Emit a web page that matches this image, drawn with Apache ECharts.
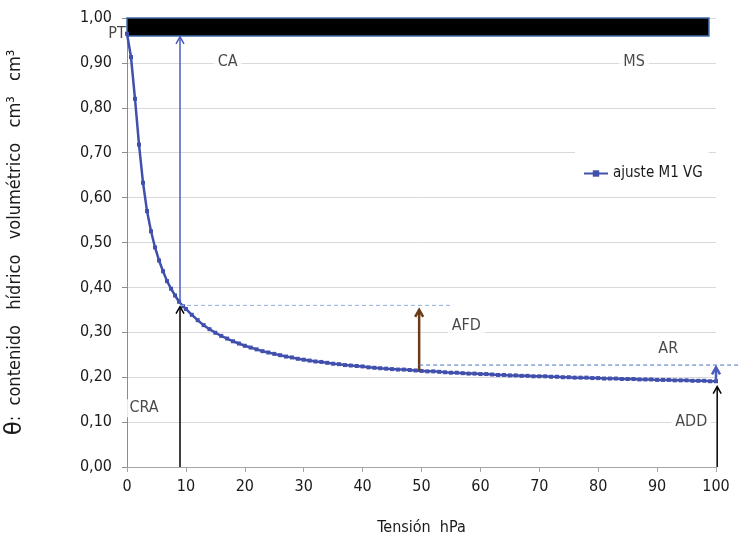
<!DOCTYPE html>
<html>
<head>
<meta charset="utf-8">
<script src="https://cdn.jsdelivr.net/npm/echarts@6/dist/echarts.min.js"></script>
<style>
  html, body { margin: 0; padding: 0; background: #fff; }
  #main { width: 738px; height: 543px; }
</style>
</head>
<body>
<div id="main"></div>
<script>
// tension (hPa) and water content
var tension = [0, 0.68, 1.36, 2.04, 2.72, 3.40, 4.08, 4.76, 5.44, 6.12, 6.80, 7.48, 8.16, 8.84, 9.52,
  10, 11, 12, 13, 14, 15, 16, 17, 18, 19, 20, 21, 22, 23, 24, 25, 26, 27, 28, 29, 30,
  31, 32, 33, 34, 35, 36, 37, 38, 39, 40, 41, 42, 43, 44, 45, 46, 47, 48, 49, 50,
  51, 52, 53, 54, 55, 56, 57, 58, 59, 60, 61, 62, 63, 64, 65, 66, 67, 68, 69, 70,
  71, 72, 73, 74, 75, 76, 77, 78, 79, 80, 81, 82, 83, 84, 85, 86, 87, 88, 89, 90,
  91, 92, 93, 94, 95, 96, 97, 98, 99, 100];
var theta = [0.965, 0.913, 0.820, 0.718, 0.633, 0.570, 0.525, 0.489, 0.460, 0.436, 0.414, 0.397, 0.382, 0.368, 0.358,
  0.352, 0.339, 0.327, 0.316, 0.307, 0.299, 0.292, 0.286, 0.280, 0.275, 0.270, 0.266, 0.262, 0.258, 0.255, 0.252, 0.249, 0.246, 0.244, 0.241, 0.239,
  0.237, 0.235, 0.234, 0.232, 0.230, 0.229, 0.227, 0.226, 0.225, 0.224, 0.222, 0.221, 0.220, 0.219, 0.218, 0.217, 0.217, 0.216, 0.215, 0.214,
  0.213, 0.213, 0.212, 0.211, 0.210, 0.210, 0.209, 0.208, 0.208, 0.207, 0.207, 0.206, 0.205, 0.205, 0.204, 0.204, 0.203, 0.203, 0.202, 0.202,
  0.202, 0.201, 0.201, 0.200, 0.200, 0.199, 0.199, 0.199, 0.198, 0.198, 0.197, 0.197, 0.197, 0.196, 0.196, 0.196, 0.195, 0.195, 0.195, 0.194,
  0.194, 0.194, 0.193, 0.193, 0.193, 0.192, 0.192, 0.192, 0.191, 0.191];

var xTicks = [0, 10, 20, 30, 40, 50, 60, 70, 80, 90, 100];

// saturation bar (x0, y0, x1, y1)
var satBar = [0, 1.0, 98.8, 0.96];

// arrows / guide lines: [x0, y0, x1, y1]
var segments = [
  [9.0, 0.363, 9.0, 0.958],    // CA
  [9.0, 0.0, 9.0, 0.357],      // CRA
  [49.6, 0.2145, 49.6, 0.350], // AFD
  [100, 0.191, 100, 0.222],    // AR
  [100.2, 0.0, 100.2, 0.179],  // ADD
  [9.0, 0.360, 55.4, 0.360],   // dashed 1
  [49.6, 0.227, 105.6, 0.227]  // dashed 2
];
var segStyle = [
  { color: '#4a5bbf', width: 1.5, head: true },
  { color: '#000000', width: 1.5, head: true },
  { color: '#6b3a16', width: 2.5, head: true },
  { color: '#4a5bbf', width: 2.5, head: true },
  { color: '#000000', width: 1.5, head: true },
  { color: '#8fb0e0', width: 1, dash: [4, 3] },
  { color: '#4472c4', width: 1, dash: [4, 3] }
];

// annotation labels: [x, y, text]
var notes = [
  [-1.7, 0.964, 'PT'],
  [17.1, 0.902, 'CA'],
  [86.1, 0.902, 'MS'],
  [57.6, 0.314, 'AFD'],
  [91.9, 0.263, 'AR'],
  [2.9, 0.131, 'CRA'],
  [95.8, 0.100, 'ADD']
];

var FONT = "'Liberation Sans Narrow', 'Arial Narrow', 'DejaVu Sans Condensed', 'Liberation Sans', sans-serif";

var curve = tension.map(function (t, i) { return [t, theta[i]]; });
var noteData = notes.map(function (n) {
  var item = { value: n };
  if (n[2] === 'PT') item.label = { backgroundColor: 'transparent', padding: 0 };
  return item;
});

var myChart = echarts.init(document.getElementById('main'), null, { renderer: 'canvas' });

var option = {
  animation: false,
  backgroundColor: '#fff',
  textStyle: { fontFamily: FONT },
  grid: {
    left: 127, right: 22, top: 18, bottom: 76,
    containLabel: false,
    outerBoundsMode: 'none'
  },
  legend: {
    data: ['ajuste M1 VG'],
    left: 575,
    top: 150,
    padding: [16, 6, 16, 8],
    backgroundColor: '#fff',
    itemWidth: 24,
    itemHeight: 8,
    itemGap: 6,
    textStyle: { fontFamily: FONT, fontSize: 15, color: '#1a1a1a' }
  },
  xAxis: {
    type: 'value',
    min: 0,
    max: 100,
    interval: 10,
    name: 'Tensión  hPa',
    nameLocation: 'middle',
    nameGap: 53,
    nameTextStyle: { fontFamily: FONT, fontSize: 16, color: '#1a1a1a' },
    axisLine: { show: true, lineStyle: { color: '#a6a6a6', width: 1 } },
    axisTick: { show: true, inside: false, length: 5, lineStyle: { color: '#a6a6a6' } },
    axisLabel: {
      fontFamily: FONT, fontSize: 16, color: '#1a1a1a', margin: 12,
      formatter: function (v) { return xTicks.indexOf(v) >= 0 ? String(v) : ''; }
    },
    splitLine: { show: false }
  },
  yAxis: {
    type: 'value',
    min: 0,
    max: 1,
    interval: 0.1,
    name: '{t|θ}:  contenido   hídrico   volumétrico   cm³   cm³',
    nameLocation: 'middle',
    nameGap: 100,
    nameRotate: 90,
    nameTextStyle: {
      fontFamily: FONT, fontSize: 18, color: '#1a1a1a',
      rich: { t: { fontFamily: 'DejaVu Sans', fontSize: 23, color: '#1a1a1a' } }
    },
    axisLine: { show: true, lineStyle: { color: '#8c8c8c', width: 1 } },
    axisTick: { show: true, inside: false, length: 5, lineStyle: { color: '#8c8c8c' } },
    axisLabel: {
      fontFamily: FONT, fontSize: 16, color: '#1a1a1a', margin: 15,
      formatter: function (v) { return v.toFixed(2).replace('.', ','); }
    },
    splitLine: { show: true, lineStyle: { color: '#d9d9d9', width: 1 } }
  },
  series: [
    {
      name: 'ajuste M1 VG',
      type: 'line',
      data: curve,
      symbol: 'rect',
      symbolSize: 4,
      showSymbol: true,
      color: '#4150ad',
      lineStyle: { color: '#4150ad', width: 2.5 },
      itemStyle: { color: '#4150ad' },
      z: 5,
      markArea: {
        silent: true,
        itemStyle: { color: '#000000', borderColor: '#3f6aa6', borderWidth: 1.5 },
        data: [[{ coord: [satBar[0], satBar[1]] }, { coord: [satBar[2], satBar[3]] }]]
      }
    },
    {
      name: 'guias',
      type: 'custom',
      silent: true,
      clip: false,
      z: 6,
      data: segments,
      encode: { x: [0, 2], y: [1, 3] },
      renderItem: function (params, api) {
        var s = segStyle[params.dataIndex];
        var p0 = api.coord([api.value(0), api.value(1)]);
        var p1 = api.coord([api.value(2), api.value(3)]);
        var children = [{
          type: 'line',
          shape: { x1: p0[0], y1: p0[1], x2: p1[0], y2: p1[1] },
          style: { stroke: s.color, lineWidth: s.width, lineDash: s.dash || null }
        }];
        if (s.head) {
          children.push({
            type: 'polyline',
            shape: { points: [[p1[0] - 4, p1[1] + 7], [p1[0], p1[1]], [p1[0] + 4, p1[1] + 7]] },
            style: { stroke: s.color, lineWidth: s.width, fill: null }
          });
        }
        return { type: 'group', children: children };
      }
    },
    {
      name: 'notas',
      type: 'scatter',
      silent: true,
      clip: false,
      symbolSize: 0,
      z: 4,
      data: noteData,
      label: {
        show: true,
        position: 'inside',
        formatter: function (p) { return p.value[2]; },
        fontFamily: FONT,
        fontSize: 16,
        color: '#1a1a1a',
        backgroundColor: '#fff',
        padding: [1, 4]
      }
    }
  ]
};

myChart.setOption(option);
</script>
</body>
</html>
